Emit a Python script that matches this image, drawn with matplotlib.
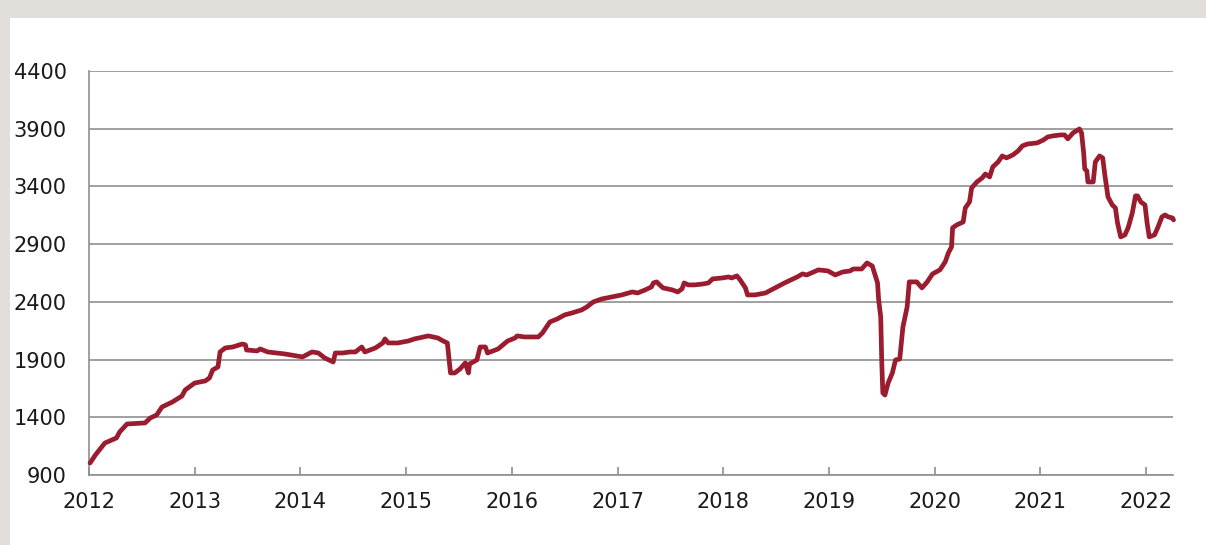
import matplotlib
matplotlib.use("Agg")
import matplotlib.pyplot as plt
from matplotlib.patches import Rectangle

# ---------------------------------------------------------------------------
# Data: decimal year, index level
# ---------------------------------------------------------------------------
YEARS = [
    2012.01, 2012.06, 2012.15, 2012.26, 2012.29, 2012.36, 2012.53, 2012.58,
    2012.64, 2012.69, 2012.79, 2012.88, 2012.91, 2013.00, 2013.10, 2013.14,
    2013.17, 2013.22, 2013.24, 2013.29, 2013.36, 2013.45, 2013.48, 2013.49,
    2013.59, 2013.62, 2013.69, 2013.85, 2014.02, 2014.11, 2014.17, 2014.23,
    2014.31, 2014.33, 2014.40, 2014.47, 2014.52, 2014.58, 2014.61, 2014.71,
    2014.78, 2014.80, 2014.83, 2014.92, 2015.02, 2015.08, 2015.21, 2015.30,
    2015.35, 2015.39, 2015.42, 2015.46, 2015.51, 2015.56, 2015.59, 2015.60,
    2015.67, 2015.70, 2015.75, 2015.77, 2015.87, 2015.96, 2016.03, 2016.05,
    2016.12, 2016.25, 2016.29, 2016.36, 2016.43, 2016.50, 2016.57, 2016.66,
    2016.71, 2016.77, 2016.85, 2016.95, 2017.04, 2017.14, 2017.19, 2017.26,
    2017.32, 2017.34, 2017.37, 2017.39, 2017.43, 2017.52, 2017.57, 2017.61,
    2017.63, 2017.67, 2017.73, 2017.81, 2017.86, 2017.90, 2017.99, 2018.05,
    2018.08, 2018.13, 2018.16, 2018.21, 2018.23, 2018.30, 2018.40, 2018.49,
    2018.58, 2018.70, 2018.75, 2018.79, 2018.90, 2018.99, 2019.06, 2019.13,
    2019.20, 2019.23, 2019.31, 2019.36, 2019.41, 2019.46, 2019.47, 2019.49,
    2019.50, 2019.51, 2019.53, 2019.56, 2019.60, 2019.63, 2019.67, 2019.70,
    2019.74, 2019.76, 2019.83, 2019.88, 2019.93, 2019.98, 2020.05, 2020.10,
    2020.13, 2020.16, 2020.17, 2020.21, 2020.27, 2020.29, 2020.33, 2020.35,
    2020.40, 2020.45, 2020.48, 2020.52, 2020.55, 2020.60, 2020.64, 2020.68,
    2020.74, 2020.79, 2020.83, 2020.88, 2020.97, 2021.03, 2021.07, 2021.12,
    2021.19, 2021.23, 2021.26, 2021.31, 2021.37, 2021.39, 2021.41, 2021.42,
    2021.44, 2021.45, 2021.50, 2021.52, 2021.56, 2021.59, 2021.61, 2021.64,
    2021.68, 2021.71, 2021.73, 2021.76, 2021.80, 2021.83, 2021.87, 2021.90,
    2021.92, 2021.95, 2021.99, 2022.01, 2022.03, 2022.08, 2022.11, 2022.15,
    2022.18, 2022.21, 2022.25, 2022.26,
]
VALUES = [
    1004, 1073, 1177, 1221, 1273, 1342, 1351, 1394,
    1420, 1489, 1533, 1585, 1637, 1697, 1715, 1741,
    1810, 1836, 1966, 2001, 2009, 2035, 2027, 1983,
    1975, 1992, 1966, 1949, 1923, 1966, 1957, 1914,
    1879, 1957, 1957, 1966, 1966, 2009, 1966, 2001,
    2044, 2079, 2044, 2044, 2061, 2079, 2105, 2087,
    2061, 2044, 1784, 1784, 1819, 1871, 1784, 1862,
    1897, 2009, 2009, 1957, 1992, 2061, 2087, 2105,
    2096, 2096, 2131, 2226, 2252, 2287, 2304, 2330,
    2356, 2399, 2425, 2443, 2460, 2486, 2477, 2503,
    2529, 2564, 2573, 2555, 2521, 2503, 2486, 2512,
    2564, 2547, 2547, 2555, 2564, 2599, 2607, 2616,
    2607, 2625, 2590, 2521, 2460, 2460, 2477, 2521,
    2564, 2616, 2642, 2633, 2677, 2668, 2633, 2659,
    2668, 2685, 2685, 2737, 2711, 2564, 2420, 2269,
    1871, 1611, 1593, 1697, 1784, 1897, 1905, 2183,
    2356, 2573, 2573, 2521, 2573, 2642, 2677, 2746,
    2824, 2876, 3041, 3067, 3092, 3214, 3266, 3387,
    3439, 3474, 3508, 3482, 3569, 3612, 3664, 3647,
    3673, 3708, 3751, 3768, 3777, 3803, 3829, 3838,
    3846, 3846, 3812, 3864, 3898, 3864, 3690, 3552,
    3534, 3439, 3439, 3612, 3664, 3647, 3500, 3309,
    3240, 3214, 3084, 2963, 2980, 3041, 3170, 3318,
    3318, 3266, 3240, 3084, 2963, 2980, 3041, 3136,
    3153, 3136, 3127, 3110,
]

YEAR_TICKS = list(range(2012, 2023))
VALUE_TICKS = list(range(900, 4401, 500))

LINE_COLOR = "#9a1c2e"
GRID_COLOR = "#8f8f8f"
FRAME_BG = "#e2deda"


def main():
    plt.rcParams.update({"font.family": "DejaVu Sans", "font.size": 15})
    fig = plt.figure(figsize=(12.06, 5.45), dpi=100, facecolor=FRAME_BG)
    # white panel inset in the grey frame (drawn beneath the axes)
    fig.patches.append(Rectangle((10 / 1206, 0), 1 - 10 / 1206, 1 - 18 / 545,
                                 transform=fig.transFigure, facecolor="white",
                                 edgecolor="none", zorder=-10))

    ax = fig.add_axes([89 / 1206, 70 / 545, (1173 - 89) / 1206, (474 - 70) / 545])
    ax.set_zorder(5)
    ax.set_facecolor("none")
    ax.plot(YEARS, VALUES, color=LINE_COLOR, linewidth=3.4,
            solid_joinstyle="round", solid_capstyle="round", zorder=3,
            clip_on=False)

    ax.set_xlim(2012, 2022.255)
    ax.set_ylim(900, 4400)
    ax.set_xticks(YEAR_TICKS)
    ax.set_xticklabels([str(y) for y in YEAR_TICKS])
    ax.set_yticks(VALUE_TICKS)
    ax.set_yticklabels([str(v) for v in VALUE_TICKS])

    ax.yaxis.grid(True, color=GRID_COLOR, linewidth=1.2)
    ax.set_axisbelow(True)
    for side in ("top", "right"):
        ax.spines[side].set_visible(False)
    for side in ("left", "bottom"):
        ax.spines[side].set_color(GRID_COLOR)
        ax.spines[side].set_linewidth(1.2)

    ax.tick_params(axis="x", direction="in", length=6, width=1.2,
                   color=GRID_COLOR, pad=12, labelcolor="#1a1a1a")
    ax.tick_params(axis="y", length=0, pad=16, labelcolor="#1a1a1a")

    fig.savefig("out.png", dpi=100, facecolor=FRAME_BG)
    plt.close(fig)


if __name__ == "__main__":
    main()
